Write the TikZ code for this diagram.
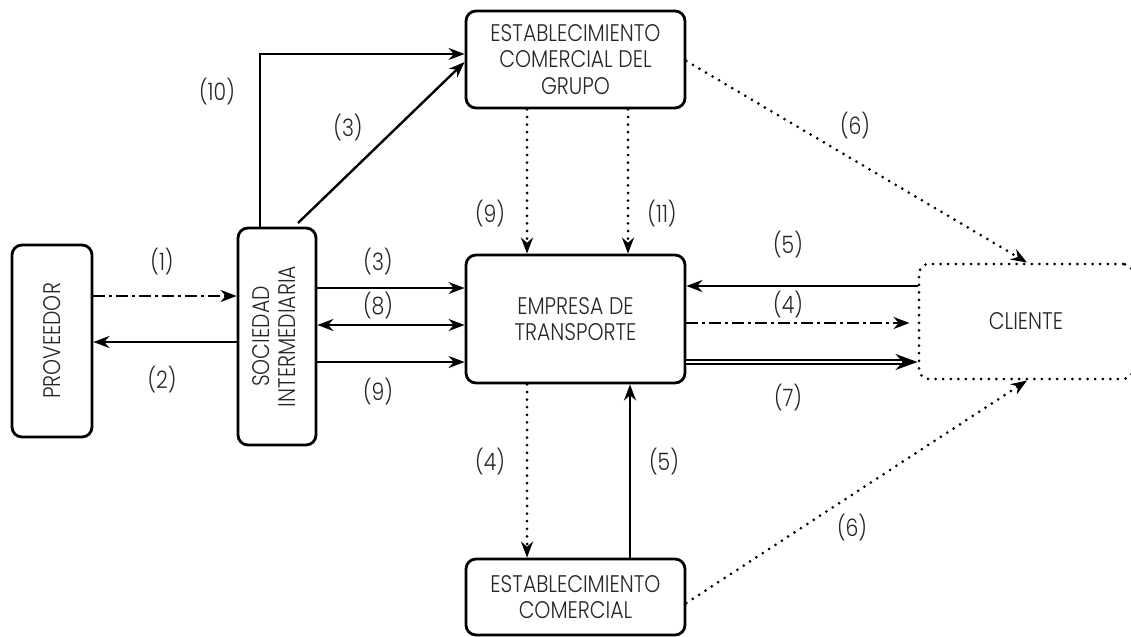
\documentclass[tikz,border=0pt]{standalone}
\usepackage{fontspec}
\setmainfont{Poppins Light}[FakeStretch=0.85]
\usepackage{graphicx}
\usetikzlibrary{arrows.meta}

\begin{document}
\begin{tikzpicture}[x=0.5pt,y=-0.5pt,
    every node/.style={font=\fontsize{12}{13.25}\selectfont, text=black!85},
    box/.style={draw, line width=1.4pt, rounded corners=5pt, align=center, inner sep=0pt},
    >={Stealth[length=8pt,width=6pt]},
    flow/.style={->, line width=1.2pt},
    dots/.style={->, line width=1.5pt, line cap=round, dash pattern=on 0pt off 3.8pt},
    dashdot/.style={->, line width=1.2pt, dash pattern=on 6pt off 2pt on 1.5pt off 2pt},
    twin/.style={double, double distance=1.2pt, line width=0.7pt, -{Stealth[length=11pt,width=8pt]}}]
    \useasboundingbox (0,0) rectangle (1131,637);

    \node[box, minimum width=40pt, minimum height=96pt] (prov) at (52,341) {\rotatebox{90}{PROVEEDOR}};
    \node[box, minimum width=39pt, minimum height=108.5pt] (soc) at (277,336.5)
        {\rotatebox{90}{\begin{tabular}{@{}c@{}}SOCIEDAD\\INTERMEDIARIA\end{tabular}}};
    \node[box, minimum width=109.5pt, minimum height=48.5pt] (grupo) at (575.5,59.5)
        {ESTABLECIMIENTO\\COMERCIAL DEL\\GRUPO};
    \node[box, minimum width=109.5pt, minimum height=64pt] (trans) at (575.5,319)
        {EMPRESA DE\\TRANSPORTE};
    \node[box, minimum width=109.5pt, minimum height=38pt] (comer) at (575.5,597)
        {ESTABLECIMIENTO\\COMERCIAL};
    \node[box, line width=1.5pt, line cap=round, dash pattern=on 0pt off 3.8pt,
        minimum width=107pt, minimum height=57.5pt] (cliente) at (1026,321.5) {CLIENTE};
    \coordinate (s3) at (298,223);

    \draw[dashdot] (prov.east |- 0,296) -- (soc.west |- 0,296);
    \draw[flow] (soc.west |- 0,342) -- (prov.east |- 0,342);
    \draw[flow] (soc.east |- 0,288) -- (trans.west |- 0,288);
    \draw[flow, <->] (soc.east |- 0,325) -- (trans.west |- 0,325);
    \draw[flow] (soc.east |- 0,362) -- (trans.west |- 0,362);
    \draw[flow] (soc.north -| 260,0) |- (grupo.west |- 0,54);
    \draw[flow] (s3) -- (grupo.west |- 0,62);
    \draw[dots] (grupo.south -| 527,0) -- (trans.north -| 527,0);
    \draw[dots] (grupo.south -| 628,0) -- (trans.north -| 628,0);
    \draw[dots] (grupo.east |- 0,61) -- (cliente.north -| 1027,0);
    \draw[flow] (cliente.west |- 0,286) -- (trans.east |- 0,286);
    \draw[dashdot] (trans.east |- 0,323) -- ([xshift=-4pt]cliente.west |- 0,323);
    \draw[twin] (trans.east |- 0,362) -- (cliente.west |- 0,362);
    \draw[dots] (trans.south -| 527,0) -- (comer.north -| 527,0);
    \draw[flow] (comer.north -| 630,0) -- (trans.south -| 630,0);
    \draw[dots] (comer.east |- 0,603) -- (cliente.south -| 1027,0);

    \node (l1) at (162,262) {(1)};
    \node (l2) at (162,380) {(2)};
    \node (l3a) at (378,262) {(3)};
    \node (l8) at (378,306) {(8)};
    \node (l9a) at (378,392) {(9)};
    \node (l10) at (217,92) {(10)};
    \node (l3b) at (348,128) {(3)};
    \node (l9b) at (490,214) {(9)};
    \node (l11) at (662,214) {(11)};
    \node (l6a) at (855,126) {(6)};
    \node (l5a) at (788,245) {(5)};
    \node (l4a) at (788,305) {(4)};
    \node (l7) at (788,398) {(7)};
    \node (l4b) at (490,462) {(4)};
    \node (l5b) at (664,462) {(5)};
    \node (l6b) at (852,528) {(6)};
\end{tikzpicture}
\end{document}
